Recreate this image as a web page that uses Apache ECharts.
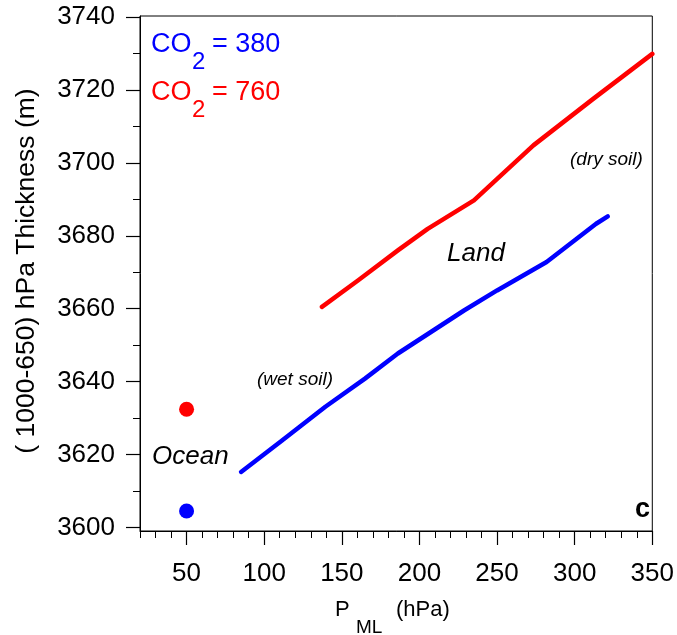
<!DOCTYPE html>
<html>
<head>
<meta charset="utf-8">
<script src="https://cdn.jsdelivr.net/npm/echarts@6/dist/echarts.min.js"></script>
<style>
html,body{margin:0;padding:0;background:#fff;}
#chart{width:677px;height:635px;}
</style>
</head>
<body>
<div id="chart"></div>
<script>
// ---- data ----
var oceanP = [50];
var ocean380 = [3604.5];
var ocean760 = [3632.4];

var landP380 = [85.1, 111.7, 139.4, 164.9, 186.1, 207.4, 228.7, 250.0, 281.9, 313.8, 321.3];
var landZ380 = [3615.2, 3623.9, 3633.1, 3640.8, 3647.7, 3653.6, 3659.5, 3665.0, 3672.8, 3683.3, 3685.3];

var landP760 = [137.2, 160.6, 186.1, 205.3, 235.1, 273.4, 311.7, 350.0];
var landZ760 = [3660.5, 3667.8, 3676.0, 3681.9, 3689.7, 3704.8, 3717.5, 3729.9];

var xMajorTicks = [50, 100, 150, 200, 250, 300, 350];
var yMajorTicks = [3600, 3620, 3640, 3660, 3680, 3700, 3720, 3740];
var yMinorTicks = [3610, 3630, 3650, 3670, 3690, 3710, 3730];

// ---- chart ----
var FONT = '"Liberation Sans", Arial, Helvetica, sans-serif';
function zip(a, b) { return a.map(function (v, i) { return [v, b[i]]; }); }
function plain(v) { return String(v); }

var chart = echarts.init(document.getElementById('chart'), null, {renderer: 'canvas'});

var xMin = 20, xMax = 350, yMin = 3599, yMax = 3740.3;

function txt(text, x, y, size, color, extra) {
  var st = {
    text: text, fill: color, fontSize: size, fontFamily: FONT,
    align: 'left', textAlign: 'left', verticalAlign: 'middle', textVerticalAlign: 'middle'
  };
  if (extra) for (var k in extra) st[k] = extra[k];
  return {type: 'text', x: x, y: y, style: st, z: 100};
}

var option = {
  backgroundColor: '#fff',
  animation: false,
  grid: {left: 140, right: 21, top: 16, bottom: 104, show: true, borderColor: '#000', borderWidth: 1, backgroundColor: 'transparent'},
  xAxis: [
    {
      type: 'value', position: 'bottom', min: xMin, max: xMax,
      axisLine: {show: true, lineStyle: {color: '#000', width: 1}},
      axisTick: {show: true, length: 14, customValues: xMajorTicks, lineStyle: {color: '#000', width: 1.2}},
      axisLabel: {show: true, customValues: xMajorTicks, formatter: plain, fontSize: 26, fontFamily: FONT, color: '#000', margin: 30},
      splitLine: {show: false}
    },
    {
      type: 'value', position: 'bottom', min: xMin, max: xMax, interval: 10,
      axisLine: {show: false},
      axisTick: {show: true, length: 7, lineStyle: {color: '#000', width: 1}},
      axisLabel: {show: false},
      splitLine: {show: false}
    }
  ],
  yAxis: [
    {
      type: 'value', position: 'left', min: yMin, max: yMax,
      axisLine: {show: true, lineStyle: {color: '#000', width: 1}},
      axisTick: {show: true, length: 14, customValues: yMajorTicks, lineStyle: {color: '#000', width: 1.2}},
      axisLabel: {show: true, customValues: yMajorTicks, formatter: plain, fontSize: 26, fontFamily: FONT, color: '#000', margin: 25},
      splitLine: {show: false}
    },
    {
      type: 'value', position: 'left', min: yMin, max: yMax,
      axisLine: {show: false},
      axisTick: {show: true, length: 7, customValues: yMinorTicks, lineStyle: {color: '#000', width: 1}},
      axisLabel: {show: false},
      splitLine: {show: false}
    }
  ],
  series: [
    {
      name: 'land380', type: 'line', xAxisIndex: 0, yAxisIndex: 0,
      data: zip(landP380, landZ380), showSymbol: false, smooth: false,
      lineStyle: {color: '#0000ff', width: 4.5, cap: 'round', join: 'round'}
    },
    {
      name: 'land760', type: 'line', xAxisIndex: 0, yAxisIndex: 0,
      data: zip(landP760, landZ760), showSymbol: false, smooth: false,
      lineStyle: {color: '#ff0000', width: 4.5, cap: 'round', join: 'round'}
    },
    {
      name: 'ocean380', type: 'scatter', xAxisIndex: 0, yAxisIndex: 0,
      data: zip(oceanP, ocean380), symbol: 'circle', symbolSize: 15,
      itemStyle: {color: '#0000ff', opacity: 1}
    },
    {
      name: 'ocean760', type: 'scatter', xAxisIndex: 0, yAxisIndex: 0,
      data: zip(oceanP, ocean760), symbol: 'circle', symbolSize: 15,
      itemStyle: {color: '#ff0000', opacity: 1}
    }
  ],
  graphic: [
    txt('CO', 151, 45, 27, '#0000ff'),
    txt('2', 192, 62, 24, '#0000ff'),
    txt('= 380', 212, 45, 27, '#0000ff'),
    txt('CO', 151, 93, 27, '#ff0000'),
    txt('2', 192, 110, 24, '#ff0000'),
    txt('= 760', 212, 93, 27, '#ff0000'),
    txt('(dry soil)', 570, 160, 19, '#000', {fontStyle: 'italic'}),
    txt('Land', 447, 254, 26, '#000', {fontStyle: 'italic'}),
    txt('(wet soil)', 257, 380, 19, '#000', {fontStyle: 'italic'}),
    txt('Ocean', 152, 457, 26, '#000', {fontStyle: 'italic'}),
    txt('c', 635, 510, 27, '#000', {fontWeight: 'bold'}),
    {
      type: 'text', x: 27, y: 271, rotation: Math.PI / 2, z: 100,
      style: {text: '( 1000-650) hPa Thickness (m)', fill: '#000', fontSize: 26.5, fontFamily: FONT,
        align: 'center', textAlign: 'center', verticalAlign: 'middle', textVerticalAlign: 'middle'}
    },
    txt('P', 335, 610, 22, '#000'),
    txt('ML', 356, 628, 19, '#000'),
    txt('(hPa)', 396, 610, 22, '#000')
  ]
};
chart.setOption(option);
</script>
</body>
</html>
